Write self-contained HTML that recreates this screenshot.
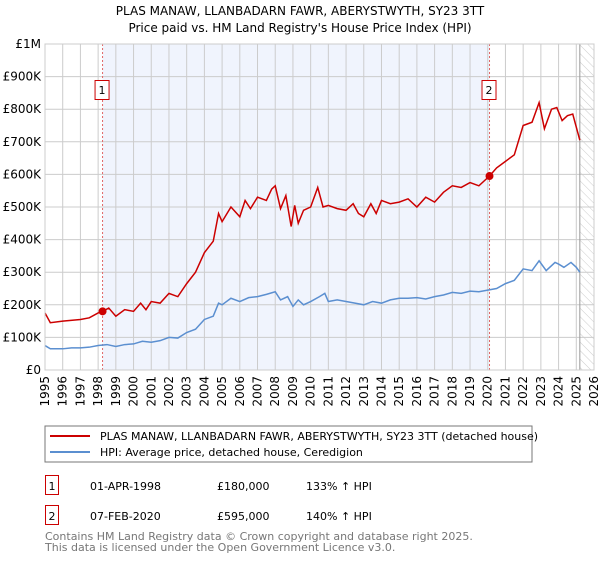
<!DOCTYPE html>
<html><head><meta charset="utf-8">
<style>
body{margin:0;background:#fff;width:600px;height:560px;overflow:hidden;font-family:"DejaVu Sans","Liberation Sans",sans-serif;}
svg text{font-family:"DejaVu Sans","Liberation Sans",sans-serif;}
</style></head>
<body>
<svg id="chart" width="600" height="560" viewBox="0 0 600 560">
<defs>
<pattern id="hatch" width="6" height="6" patternUnits="userSpaceOnUse" patternTransform="rotate(-45)">
<line x1="0" y1="0" x2="0" y2="6" stroke="#ccc" stroke-width="1"/>
</pattern>
</defs>
<text x="300" y="15" text-anchor="middle" font-size="12">PLAS MANAW, LLANBADARN FAWR, ABERYSTWYTH, SY23 3TT</text>
<text x="300" y="32" text-anchor="middle" font-size="12">Price paid vs. HM Land Registry's House Price Index (HPI)</text>
<g id="plot"></g>
<rect x="45" y="426" width="487" height="36" fill="#fff" stroke="#777"/>
<line x1="50" y1="436" x2="90" y2="436" stroke="#cc0000" stroke-width="2"/>
<text x="100" y="440" font-size="11">PLAS MANAW, LLANBADARN FAWR, ABERYSTWYTH, SY23 3TT (detached house)</text>
<line x1="50" y1="452" x2="90" y2="452" stroke="#5b8fd0" stroke-width="2"/>
<text x="100" y="456" font-size="11">HPI: Average price, detached house, Ceredigion</text>
<g>
<rect x="45.5" y="475.5" width="13" height="19" fill="#fff" stroke="#cc0000"/>
<text x="52" y="490" font-size="11" text-anchor="middle">1</text>
<text x="90" y="490" font-size="11">01-APR-1998</text>
<text x="217" y="490" font-size="11">£180,000</text>
<text x="306" y="490" font-size="11">133% ↑ HPI</text>
</g>
<g>
<rect x="45.5" y="505.5" width="13" height="19" fill="#fff" stroke="#cc0000"/>
<text x="52" y="520" font-size="11" text-anchor="middle">2</text>
<text x="90" y="520" font-size="11">07-FEB-2020</text>
<text x="217" y="520" font-size="11">£595,000</text>
<text x="306" y="520" font-size="11">140% ↑ HPI</text>
</g>
<text x="45" y="540" font-size="11" fill="#777">Contains HM Land Registry data © Crown copyright and database right 2025.</text>
<text x="45" y="551" font-size="11" fill="#777">This data is licensed under the Open Government Licence v3.0.</text>
</svg>
<script>
const yTicks=[0,100,200,300,400,500,600,700,800,900,1000];
const yTickLabels=["£0","£100K","£200K","£300K","£400K","£500K","£600K","£700K","£800K","£900K","£1M"];
const xYears=[1995,1996,1997,1998,1999,2000,2001,2002,2003,2004,2005,2006,2007,2008,2009,2010,2011,2012,2013,2014,2015,2016,2017,2018,2019,2020,2021,2022,2023,2024,2025,2026];
const hpiT=[1995,1995.3,1996,1996.5,1997,1997.5,1998,1998.5,1999,1999.5,2000,2000.5,2001,2001.5,2002,2002.5,2003,2003.5,2004,2004.5,2004.8,2005,2005.5,2006,2006.5,2007,2007.5,2008,2008.3,2008.7,2009,2009.3,2009.6,2010,2010.5,2010.8,2011,2011.5,2012,2012.5,2013,2013.5,2014,2014.5,2015,2015.5,2016,2016.5,2017,2017.5,2018,2018.5,2019,2019.5,2020,2020.5,2021,2021.5,2022,2022.5,2022.9,2023.3,2023.8,2024,2024.3,2024.7,2025,2025.2];
const hpiV=[75,65,65,68,68,70,75,78,72,78,80,88,85,90,100,98,115,125,155,165,205,200,220,210,222,225,232,240,215,225,195,215,200,210,225,235,210,215,210,205,200,210,205,215,220,220,222,218,225,230,238,235,242,240,245,250,265,275,310,305,335,305,330,325,315,330,315,300];
const redT=[1995,1995.3,1996,1997,1997.5,1998,1998.25,1998.6,1999,1999.5,2000,2000.4,2000.7,2001,2001.5,2002,2002.5,2003,2003.5,2004,2004.5,2004.8,2005,2005.5,2006,2006.3,2006.6,2007,2007.5,2007.8,2008,2008.3,2008.6,2008.9,2009.1,2009.3,2009.6,2010,2010.4,2010.7,2011,2011.5,2012,2012.4,2012.7,2013,2013.4,2013.7,2014,2014.5,2015,2015.5,2016,2016.5,2017,2017.5,2018,2018.5,2019,2019.5,2020.1,2020.5,2021,2021.5,2022,2022.5,2022.9,2023.2,2023.6,2023.9,2024.2,2024.5,2024.8,2025.2];
const redV=[175,145,150,155,160,175,180,190,165,185,180,205,185,210,205,235,225,265,300,360,395,480,455,500,470,520,495,530,520,555,565,495,535,440,505,450,490,500,560,500,505,495,490,510,480,470,510,480,520,510,515,525,500,530,515,545,565,560,575,565,595,620,640,660,750,760,820,740,800,805,765,780,785,705];
const sales=[{t:1998.25,v:180,n:"1"},{t:2020.1,v:595,n:"2"}];
const X0=45,X1=594,Y0=370,Y1=44;
const xs=t=>X0+(t-1995)/(2026-1995)*(X1-X0);
const ys=v=>Y0-v/1000*(Y0-Y1);
const NS="http://www.w3.org/2000/svg";
const g=document.getElementById('plot');
function mk(tag,attrs,parent){const e=document.createElementNS(NS,tag);for(const k in attrs)e.setAttribute(k,attrs[k]);(parent||g).appendChild(e);return e;}
mk('rect',{x:X0,y:Y1,width:X1-X0,height:Y0-Y1,fill:'#fff'});
const shade=mk('rect',{x:xs(sales[0].t),y:Y1,width:xs(sales[1].t)-xs(sales[0].t),height:Y0-Y1,fill:'#f0f4fd'});


const hat=mk('rect',{x:xs(2025.2),y:Y1,width:X1-xs(2025.2),height:Y0-Y1,fill:'url(#hatch)'});


yTicks.forEach((v,i)=>{
  const l=mk('line',{x1:X0,x2:X1,y1:ys(v),y2:ys(v),stroke:'#ccc','stroke-width':1});
  
  
  const t=mk('text',{x:X0-4,y:ys(v)+4,'text-anchor':'end','font-size':12});
  t.textContent=yTickLabels[i];
  
  
});
xYears.forEach(yr=>{
  const l=mk('line',{x1:xs(yr),x2:xs(yr),y1:Y1,y2:Y0,stroke:'#ccc','stroke-width':1});
  
  
  const t=mk('text',{x:0,y:0,'font-size':12,'text-anchor':'end',transform:`translate(${xs(yr)+4},${Y0+6}) rotate(-90)`});
  t.textContent=yr;
  
  
});
const endL=mk('line',{x1:xs(2025.2),x2:xs(2025.2),y1:Y1,y2:Y0,stroke:'#999','stroke-width':1});


sales.forEach(s=>{
  const l=mk('line',{x1:xs(s.t),x2:xs(s.t),y1:Y1,y2:Y0,stroke:'#e06666','stroke-width':1,'stroke-dasharray':'2,2'});
  
  
});
const hp=mk('polyline',{points:hpiT.map((t,i)=>xs(t)+','+ys(hpiV[i])).join(' '),fill:'none',stroke:'#5b8fd0','stroke-width':1.5});


const rp=mk('polyline',{points:redT.map((t,i)=>xs(t)+','+ys(redV[i])).join(' '),fill:'none',stroke:'#cc0000','stroke-width':1.5});


sales.forEach(s=>{
  const c=mk('circle',{cx:xs(s.t),cy:ys(s.v),r:4,fill:'#cc0000'});
  
  
  const b=mk('rect',{x:xs(s.t)-7.5,y:80.5,width:14,height:19,fill:'#fff',stroke:'#cc0000'});
  
  
  const t=mk('text',{x:xs(s.t)-0.5,y:94,'text-anchor':'middle','font-size':11});
  t.textContent=s.n;
  
  
});
const fr=mk('rect',{x:X0,y:Y1,width:X1-X0,height:Y0-Y1,fill:'none',stroke:'#ccc'});


</script>
</body></html>
